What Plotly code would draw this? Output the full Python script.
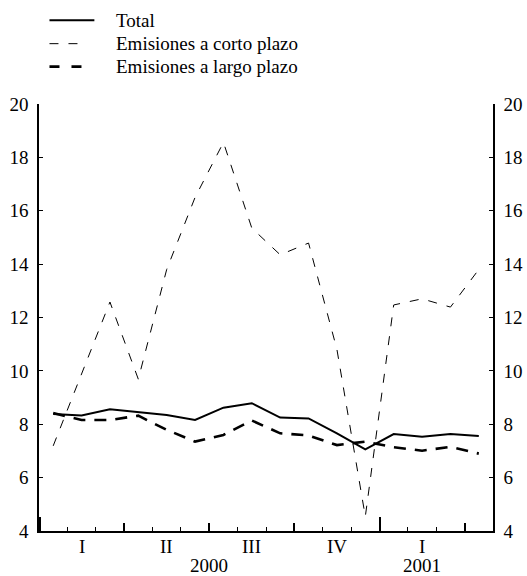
import plotly.graph_objects as go

# Data (monthly, Jan 2000 - Apr 2001)
months = list(range(16))
total = [8.38, 8.33, 8.56, 8.46, 8.35, 8.16, 8.62, 8.79, 8.25, 8.22, 7.66, 7.06, 7.63, 7.53, 7.63, 7.56]
corto = [7.19, 9.9, 12.58, 9.69, 13.8, 16.5, 18.56, 15.35, 14.35, 14.79, 10.8, 4.54, 12.47, 12.7, 12.39, 13.8]
largo = [8.42, 8.16, 8.16, 8.32, 7.79, 7.35, 7.6, 8.14, 7.66, 7.58, 7.22, 7.35, 7.14, 7.01, 7.15, 6.9]

series_names = ["Total", "Emisiones a corto plazo", "Emisiones a largo plazo"]
quarter_labels = ["I", "II", "III", "IV", "I"]
quarter_centers = [1.5, 4.5, 7.5, 10.5, 13.5]
year_labels = ["2000", "2001"]
year_centers = [6, 13.5]
y_ticks = [4, 6, 8, 10, 12, 14, 16, 18, 20]

W, H = 527, 576
L, R, T, B = 38.5, 33.5, 104.3, 45
PW, PH = W - L - R, H - T - B
FONT = "Liberation Serif, Times New Roman, serif"
FS = 19

def px_x(px):
    return (px - L) / PW

def px_y(py):
    return (H - B - py) / PH

xc = [m + 0.5 for m in months]

fig = go.Figure()
fig.add_trace(go.Scatter(x=xc, y=total, mode="lines", name=series_names[0],
                         line=dict(color="black", width=2), showlegend=False))
fig.add_trace(go.Scatter(x=xc, y=corto, mode="lines", name=series_names[1],
                         line=dict(color="black", width=1, dash="9px,10px"), showlegend=False))
fig.add_trace(go.Scatter(x=xc, y=largo, mode="lines", name=series_names[2],
                         line=dict(color="black", width=2.6, dash="12px,9px"), showlegend=False))

# dummy traces to carry overlay axes
for ax in ["x2", "x3", "x4"]:
    fig.add_trace(go.Scatter(x=[None], y=[None], xaxis=ax, yaxis="y", showlegend=False,
                             hoverinfo="skip"))
fig.add_trace(go.Scatter(x=[None], y=[None], xaxis="x", yaxis="y2", showlegend=False,
                         hoverinfo="skip"))

xr = [0, 16]
common_x = dict(range=xr, showgrid=False, zeroline=False, fixedrange=True, automargin=False)
yfont = dict(size=FS, family=FONT, color="black")
fig.update_layout(
    width=W, height=H,
    margin=dict(l=L, r=R, t=T, b=B, pad=0, autoexpand=False),
    paper_bgcolor="white", plot_bgcolor="white",
    font=dict(family=FONT, size=FS, color="black"),
    xaxis=dict(**common_x, showline=True, linecolor="black", linewidth=1.5,
               tickmode="array", tickvals=[], ticks="", showticklabels=False),
    xaxis2=dict(**common_x, overlaying="x", anchor="y", showline=False,
                tickmode="array", tickvals=[m for m in range(1, 16) if m % 3 != 0],
                ticks="inside", ticklen=4, tickwidth=1.3, tickcolor="black",
                showticklabels=False),
    xaxis3=dict(**common_x, overlaying="x", anchor="y", showline=False,
                tickmode="array", tickvals=[3, 6, 9, 15],
                ticks="inside", ticklen=8, tickwidth=1.5, tickcolor="black",
                showticklabels=False),
    xaxis4=dict(**common_x, overlaying="x", anchor="y", showline=False,
                tickmode="array", tickvals=[0.05, 12],
                ticks="inside", ticklen=14, tickwidth=1.6, tickcolor="black",
                showticklabels=False),
    yaxis=dict(range=[4, 20], showgrid=False, zeroline=False, fixedrange=True,
               automargin=False,
               showline=True, linecolor="black", linewidth=1.5,
               tickmode="array", tickvals=y_ticks, ticks="inside", ticklen=4,
               tickwidth=1.2, tickcolor="black", ticklabelstandoff=5, tickfont=yfont),
    yaxis2=dict(range=[4, 20], overlaying="y", side="right", anchor="x",
                automargin=False,
                showgrid=False, zeroline=False, fixedrange=True,
                showline=True, linecolor="black", linewidth=1.5,
                tickmode="array", tickvals=y_ticks, ticks="inside", ticklen=4,
                tickwidth=1.2, tickcolor="black", ticklabelstandoff=5, tickfont=yfont),
)

# quarter labels
for lab, xcen in zip(quarter_labels, quarter_centers):
    fig.add_annotation(x=xcen, y=0, xref="x", yref="paper", text=lab, showarrow=False,
                       yanchor="middle", yshift=-15, font=yfont)
# year labels
for lab, xcen in zip(year_labels, year_centers):
    fig.add_annotation(x=xcen, y=0, xref="x", yref="paper", text=lab, showarrow=False,
                       yanchor="middle", yshift=-34, font=yfont)

# manual legend
leg_y = [20.7, 44, 67]
styles = [dict(color="black", width=2),
          dict(color="black", width=1, dash="9px,10px"),
          dict(color="black", width=2.6, dash="10px,12px")]
ends = [94, 78, 82]
for name, py, st, xe in zip(series_names, leg_y, styles, ends):
    fig.add_shape(type="line", xref="paper", yref="paper",
                  x0=px_x(49), x1=px_x(xe), y0=px_y(py), y1=px_y(py), line=st)
    fig.add_annotation(x=px_x(114), y=px_y(py), xref="paper", yref="paper", text=name,
                       showarrow=False, xanchor="left", yanchor="middle", font=yfont)

fig.write_html("out.html")
